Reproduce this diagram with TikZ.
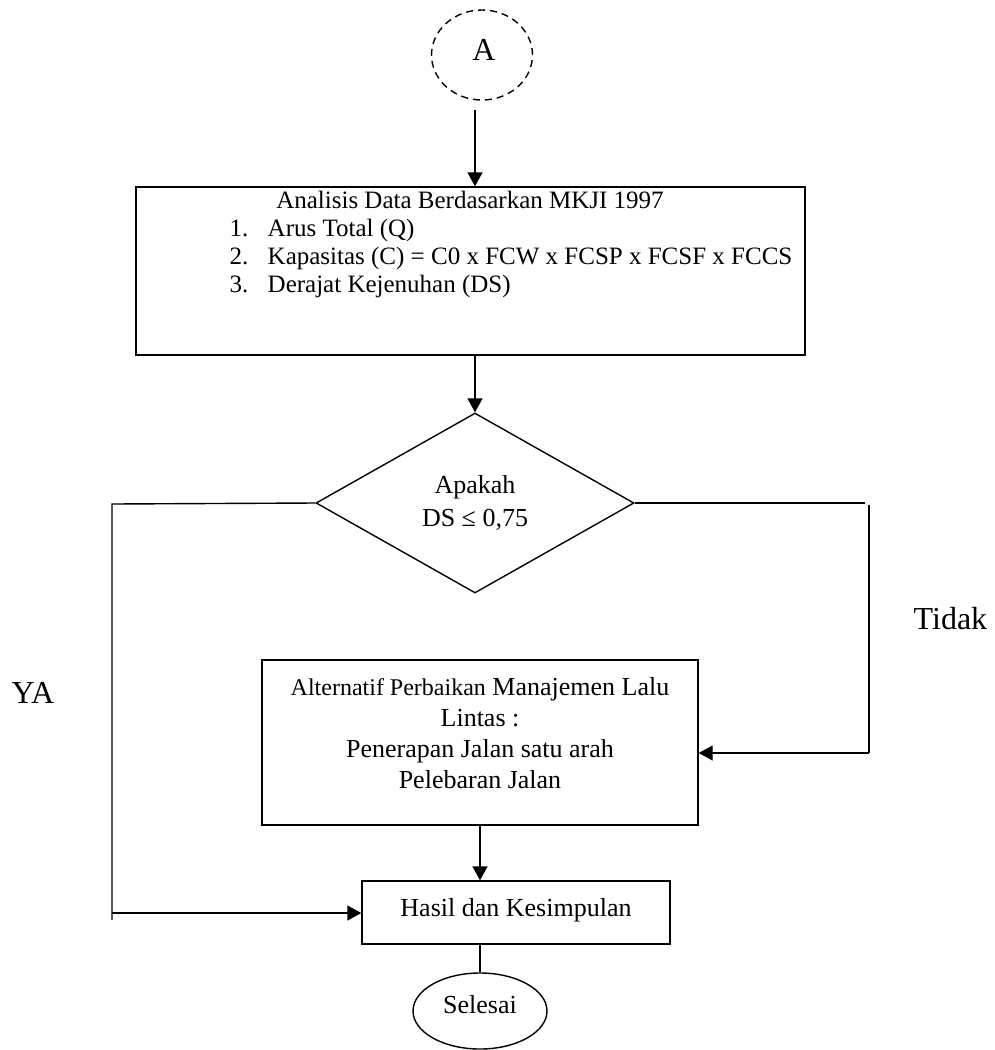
\documentclass[tikz,border=0pt]{standalone}
\usepackage{fontspec}
\setmainfont{Liberation Serif}
\usetikzlibrary{arrows.meta,shapes.geometric}
\newcommand\fmain{\fontsize{26}{30}\selectfont}
\newcommand\fboxone{\fontsize{25}{28}\selectfont}
\newcommand\fsmall{\fontsize{24}{30}\selectfont}
\newcommand\fbig{\fontsize{32}{36}\selectfont}
\begin{document}
\begin{tikzpicture}[x=1pt,y=-1pt,
  line width=1.4pt,
  arr/.style={-{Triangle[length=14pt,width=15pt]}},
  boxshape/.style={draw, rectangle, inner sep=0pt},
  txt/.style={anchor=base, inner sep=0pt, font=\fmain},
  txtone/.style={anchor=base west, inner sep=0pt, font=\fboxone}]
\useasboundingbox (0,0) rectangle (995,1050);
% start connector
\node[draw, dashed, dash pattern=on 7pt off 5pt, ellipse, minimum width=101pt, minimum height=90pt, inner sep=0pt] (A) at (482,55) {};
\node[anchor=base, inner sep=0pt, font=\fbig] (Atxt) at (484,60) {A};
% box 1
\node[boxshape, minimum width=669pt, minimum height=168pt] (b1) at (470.5,271) {};
\node[anchor=base, inner sep=0pt, font=\fboxone] (t0) at (470,208) {Analisis Data Berdasarkan MKJI 1997};
\node[txtone] (n1) at (229,236) {1.};
\node[txtone] (i1) at (267,236) {Arus Total (Q)};
\node[txtone] (n2) at (229,264) {2.};
\node[txtone] (i2) at (267,264) {Kapasitas (C) = C0 x FCW x FCSP x FCSF x FCCS};
\node[txtone] (n3) at (229,292) {3.};
\node[txtone] (i3) at (267,292) {Derajat Kejenuhan (DS)};
% decision
\node[draw, diamond, minimum width=318pt, minimum height=180pt, inner sep=0pt] (d) at (475,503) {};
\node[txt] (dq1) at (475,493) {Apakah};
\node[txt] (dq2) at (475,526) {DS ≤ 0,75};
% box 2
\node[boxshape, minimum width=436pt, minimum height=165pt] (b2) at (480,742.5) {};
\node[txt] (m1) at (480,695) {{\fsmall Alternatif Perbaikan} Manajemen Lalu};
\node[txt] (m2) at (480,726) {Lintas :};
\node[txt] (m3) at (480,757) {Penerapan Jalan satu arah};
\node[txt] (m4) at (480,788) {Pelebaran Jalan};
% result
\node[boxshape, minimum width=308pt, minimum height=63pt] (h) at (516,912.5) {};
\node[txt] (ht) at (516,916) {Hasil dan Kesimpulan};
% end
\node[draw, ellipse, minimum width=134pt, minimum height=76pt, inner sep=0pt] (s) at (480,1011) {};
\node[txt] (st) at (480,1013) {Selesai};
% side labels
\node[anchor=base west, inner sep=0pt, font=\fbig] (tidak) at (913,629) {Tidak};
\node[anchor=base east, inner sep=0pt, font=\fbig] (ya) at (55,703) {YA};
% connectors
\coordinate (a1) at (475,110);
\draw[arr] (a1) -- (a1 |- b1.north);
\draw[arr] (b1.south -| d.north) -- (d.north);
\coordinate (L1) at (112,504);
\coordinate (L2) at (112,920);
\coordinate (L3) at (112,913);
\draw (d.west) -- (L1) -- (L2);
\draw[arr] (L3) -- (L3 -| h.west);
\coordinate (R1) at (865,503);
\coordinate (R2) at (869,505);
\coordinate (R3) at (869,753);
\draw (d.east) -- (R1);
\draw (R2) -- (R3);
\draw[arr] (R3) -- (R3 -| b2.east);
\draw[arr] (b2.south) -- (b2.south |- h.north);
\draw (s.north |- h.south) -- (s.north);
\end{tikzpicture}
\end{document}
